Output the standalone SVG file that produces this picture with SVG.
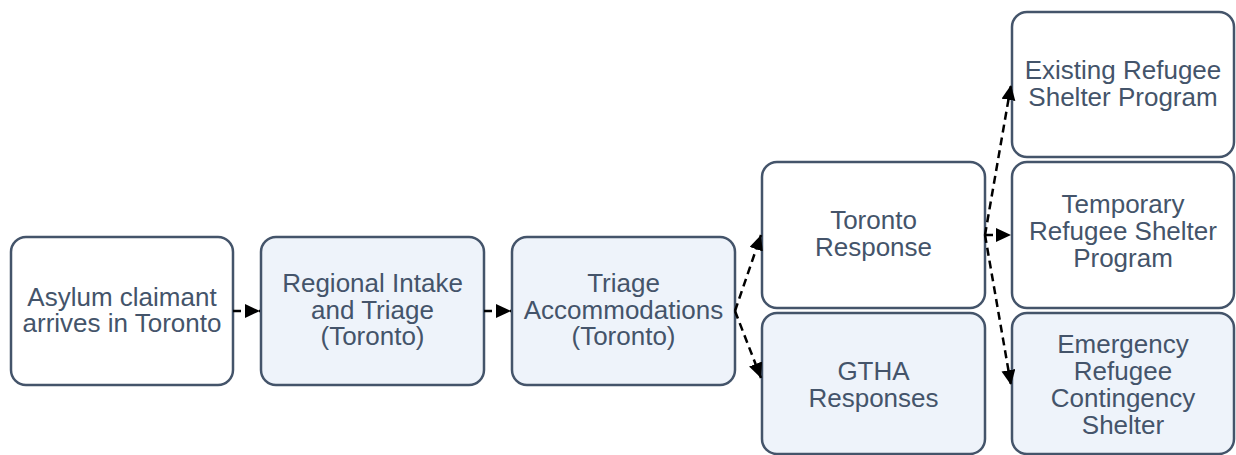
<svg xmlns="http://www.w3.org/2000/svg" width="1236" height="455" viewBox="0 0 1236 455">
<style>
.box{stroke:#44546A;stroke-width:2.5}
.w{fill:#FFFFFF}
.b{fill:#EEF3FA}
text{font-family:"Liberation Sans",Arial,sans-serif;font-size:26px;fill:#44546A;text-anchor:middle}
.c{fill:none;stroke:#000;stroke-width:2.5;stroke-dasharray:8,5}
</style>
<defs>
<marker id="ah" markerUnits="userSpaceOnUse" markerWidth="16" markerHeight="15" refX="15" refY="7" orient="auto">
<path d="M0,0 L15,7 L0,14 Z" fill="#000"/>
</marker>
</defs>
<rect width="1236" height="455" fill="#FFFFFF"/>
<g id="n1"><rect class="box w" x="11" y="237" width="222" height="148" rx="15"/><text x="122" y="306">Asylum claimant</text><text x="122" y="332">arrives in Toronto</text></g>
<g id="n2"><rect class="box b" x="261" y="237" width="223" height="148" rx="15"/><text x="372.5" y="292">Regional Intake</text><text x="372.5" y="318.5">and Triage</text><text x="372.5" y="345">(Toronto)</text></g>
<g id="n3"><rect class="box b" x="512" y="237" width="223" height="148" rx="15"/><text x="623.5" y="292">Triage</text><text x="623.5" y="318.5">Accommodations</text><text x="623.5" y="345">(Toronto)</text></g>
<g id="n4"><rect class="box w" x="762" y="162" width="223" height="146" rx="15"/><text x="873.5" y="229">Toronto</text><text x="873.5" y="256">Response</text></g>
<g id="n5"><rect class="box b" x="762" y="313" width="223" height="141" rx="15"/><text x="873.5" y="380">GTHA</text><text x="873.5" y="407">Responses</text></g>
<g id="n6"><rect class="box w" x="1012" y="12" width="222" height="145" rx="15"/><text x="1123" y="79">Existing Refugee</text><text x="1123" y="106">Shelter Program</text></g>
<g id="n7"><rect class="box w" x="1012" y="162" width="222" height="146" rx="15"/><text x="1123" y="213">Temporary</text><text x="1123" y="240">Refugee Shelter</text><text x="1123" y="267">Program</text></g>
<g id="n8"><rect class="box b" x="1012" y="313" width="222" height="141" rx="15"/><text x="1123" y="353">Emergency</text><text x="1123" y="380">Refugee</text><text x="1123" y="407">Contingency</text><text x="1123" y="434">Shelter</text></g>
<g id="connectors">
<line class="c" x1="233" y1="311" x2="260" y2="311" marker-end="url(#ah)"/>
<line class="c" x1="484" y1="311" x2="511" y2="311" marker-end="url(#ah)"/>
<line class="c" x1="735" y1="311" x2="761" y2="235" marker-end="url(#ah)"/>
<line class="c" x1="735" y1="311" x2="761" y2="378" marker-end="url(#ah)"/>
<line class="c" x1="985" y1="235" x2="1011" y2="85" marker-end="url(#ah)"/>
<line class="c" x1="985" y1="235" x2="1011" y2="235" marker-end="url(#ah)"/>
<line class="c" x1="985" y1="235" x2="1011" y2="385" marker-end="url(#ah)"/>
</g>
</svg>
